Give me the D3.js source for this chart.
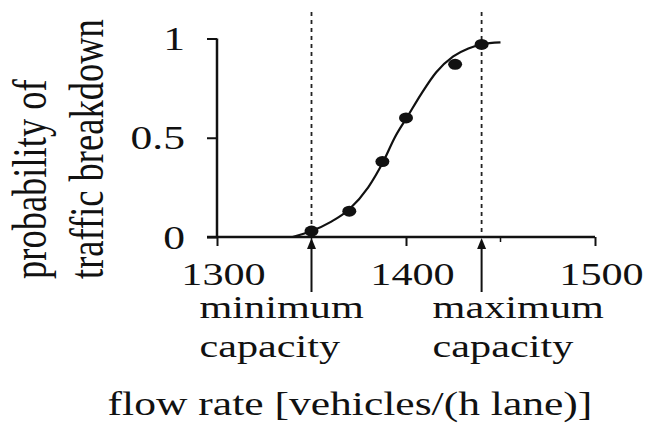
<!DOCTYPE html>
<html>
<head>
<meta charset="utf-8">
<title>Probability of traffic breakdown</title>
<script src="https://d3js.org/d3.v7.min.js"></script>
<style>
  body { margin: 0; background: #fff; }
  svg { display: block; font-family: "Liberation Serif", "Times New Roman", serif; fill: #111; }
  .axis path, .axis line { stroke: #111; }
</style>
</head>
<body>
<svg id="chart" width="647" height="428"></svg>
<script>
// observed breakdown probabilities
flowRates = [1350, 1370, 1387.5, 1400, 1426, 1440];
probabilities = [0.03, 0.13, 0.38, 0.6, 0.87, 0.97];
// fitted curve
curveFlow = [1340, 1350, 1360, 1370, 1380, 1388, 1394, 1401, 1408, 1416, 1425, 1433, 1440, 1450];
curveProb = [0, 0.03, 0.075, 0.14, 0.25, 0.38, 0.5, 0.61, 0.72, 0.83, 0.91, 0.95, 0.97, 0.98];
// axes and annotations
xTicks = [1300, 1400, 1500];
xMinorTicks = [1350, 1450];
yTicks = [0, 0.5, 1];
yTickLabels = ["0", "0.5", "1"];
capacities = [1350, 1440];
capacityLabels = [["minimum", "capacity"], ["maximum", "capacity"]];
yLabelLines = ["probability of", "traffic breakdown"];
xLabel = "flow rate [vehicles/(h lane)]";

// the picture is stretched sideways, so every text gets this horizontal scale
sx = 1.32;
chart = d3.select("#chart");
x = d3.scaleLinear().domain([1300, 1500]).range([217, 595]);
y = d3.scaleLinear().domain([0, 1]).range([237, 38.5]);

function stretched(sel, px, py) {
  return sel.attr("transform", "translate(" + px + "," + py + ") scale(" + sx + ",1)");
}

// dotted capacity lines
chart.selectAll(".cap")
  .data(capacities)
  .enter().append("line")
    .attr("x1", function(d) { return x(d); })
    .attr("x2", function(d) { return x(d); })
    .attr("y1", 12)
    .attr("y2", y(0))
    .style("stroke", "#222")
    .style("stroke-width", 1.8)
    .style("stroke-dasharray", "4,4");

// x axis
xAxis = d3.axisBottom(x).tickValues(xTicks).tickSize(9).tickPadding(4).tickFormat(d3.format("d"));
xAxisGroup = chart.append("g").attr("class", "axis")
  .attr("transform", "translate(0," + y(0) + ")")
  .call(xAxis)
  .attr("font-family", null)
  .attr("font-size", null);
xAxisGroup.select(".domain").remove();
xAxisGroup.append("line")
  .attr("x1", x(1300) - 10).attr("x2", x(1500))
  .style("stroke", "#111").style("stroke-width", 2.5);
xAxisGroup.selectAll(".tick line").style("stroke-width", 2);
xAxisGroup.selectAll(".tick text")
  .attr("x", 6 / sx)
  .attr("y", 0)
  .attr("dy", 0)
  .attr("transform", "translate(0,48) scale(" + sx + ",1)")
  .style("font-size", "32px")
  .style("fill", "#111");
xAxisGroup.selectAll(".minor")
  .data(xMinorTicks)
  .enter().append("line")
    .attr("x1", function(d) { return x(d); })
    .attr("x2", function(d) { return x(d); })
    .attr("y2", 5)
    .style("stroke", "#111").style("stroke-width", 1.5);

// y axis
yAxis = d3.axisLeft(y).tickValues(yTicks).tickSize(10).tickFormat(function(d, i) { return yTickLabels[i]; });
yAxisGroup = chart.append("g").attr("class", "axis")
  .attr("transform", "translate(" + x(1300) + ",0)")
  .call(yAxis)
  .attr("font-family", null)
  .attr("font-size", null);
yAxisGroup.select(".domain").remove();
yAxisGroup.append("line")
  .attr("y1", y(0)).attr("y2", y(1))
  .style("stroke", "#111").style("stroke-width", 2.5);
yAxisGroup.selectAll(".tick line").style("stroke-width", 2);
yAxisGroup.selectAll(".tick text")
  .attr("x", -32 / sx)
  .attr("dy", "0.34em")
  .attr("transform", "scale(" + sx + ",1)")
  .style("font-size", "33px")
  .style("fill", "#111");

// fitted curve
line = d3.line()
  .x(function(d, i) { return x(curveFlow[i]); })
  .y(function(d) { return y(d); })
  .curve(d3.curveMonotoneX);
chart.append("path")
  .datum(curveProb)
  .attr("d", line)
  .style("fill", "none")
  .style("stroke", "#111")
  .style("stroke-width", 2.2);

// observations
chart.selectAll(".obs")
  .data(probabilities)
  .enter().append("ellipse")
    .attr("cx", function(d, i) { return x(flowRates[i]); })
    .attr("cy", function(d) { return y(d); })
    .attr("rx", 7)
    .attr("ry", 5.5)
    .style("fill", "#111");

// capacity arrows and labels
labelOffsets = [-112, -49];
capacities.forEach(function(c, i) {
  var cx = x(c);
  chart.append("line")
    .attr("x1", cx).attr("x2", cx)
    .attr("y1", y(0) + 8).attr("y2", 292)
    .style("stroke", "#111").style("stroke-width", 2);
  chart.append("path")
    .attr("d", "M" + cx + "," + (y(0) + 1) + "l-4.5,11h9z")
    .style("fill", "#111");
  capacityLabels[i].forEach(function(t, j) {
    stretched(chart.append("text"), cx + labelOffsets[i], 318 + j * 39)
      .style("font-size", "32px")
      .text(t);
  });
});

// axis titles
chart.append("text")
  .attr("text-anchor", "middle")
  .attr("transform", "translate(350,415) scale(" + sx + ",1)")
  .style("font-size", "33px")
  .text(xLabel);
yLabelLines.forEach(function(t, i) {
  chart.append("text")
    .attr("transform", "translate(" + (46 + i * 57) + ",279) scale(" + sx + ",1) rotate(-90)")
    .style("font-size", "36.5px")
    .text(t);
});
</script>
</body>
</html>
